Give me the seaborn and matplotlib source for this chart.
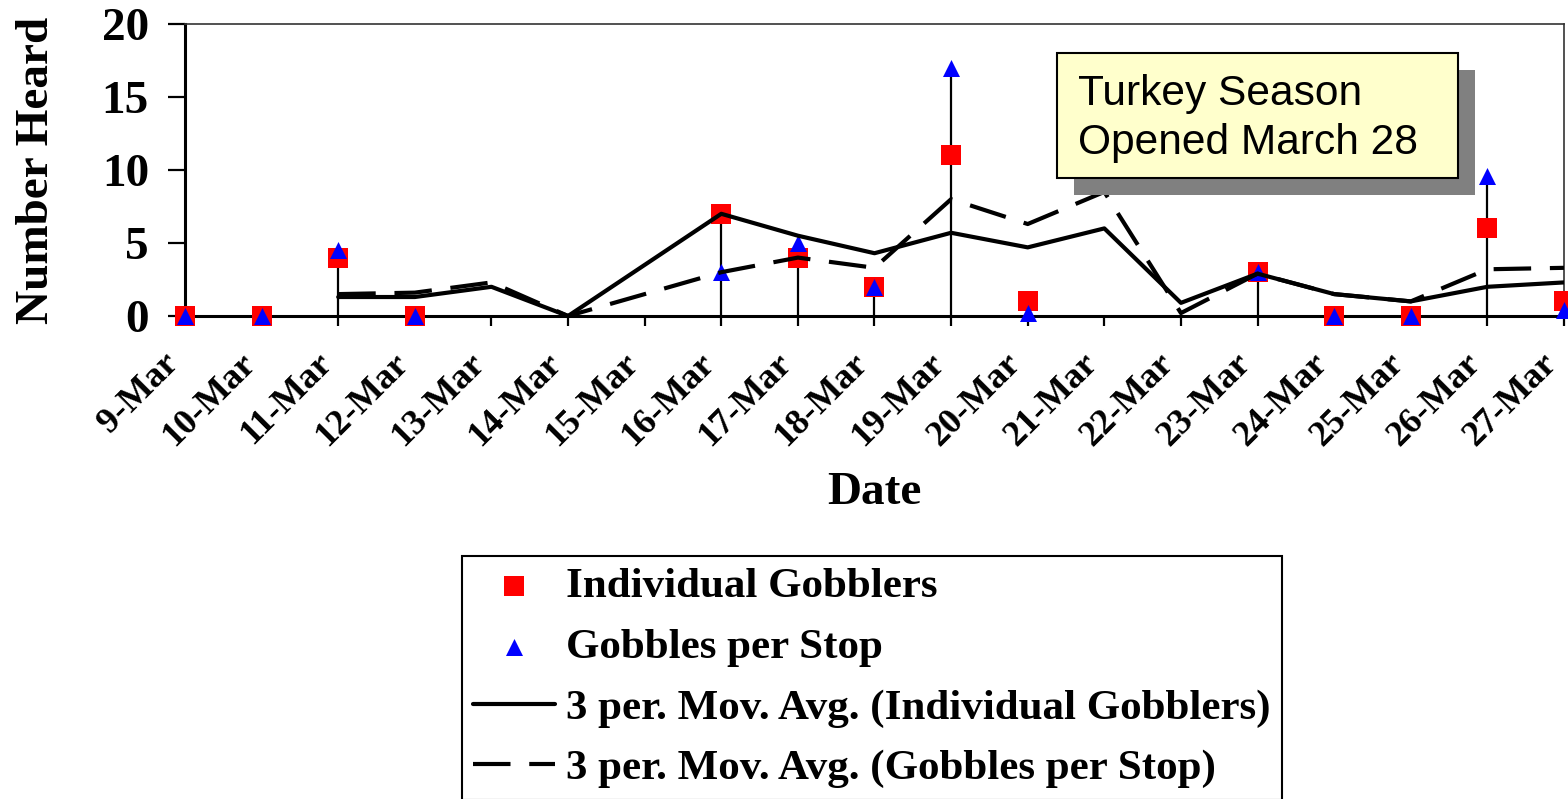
import matplotlib
matplotlib.use("Agg")
import matplotlib.pyplot as plt
import numpy as np
import seaborn as sns
import pandas as pd
from matplotlib.patches import Rectangle

# 数据
dates = ['9-Mar', '10-Mar', '11-Mar', '12-Mar', '13-Mar', '14-Mar', '15-Mar',
         '16-Mar', '17-Mar', '18-Mar', '19-Mar', '20-Mar', '21-Mar', '22-Mar',
         '23-Mar', '24-Mar', '25-Mar', '26-Mar', '27-Mar']
nan = np.nan
individual = [0, 0, 4, 0, nan, nan, nan, 7, 4, 2, 11, 1, nan, nan, 3, 0, 0, 6, 1]
gobbles = [0, 0, 4.5, 0, nan, nan, nan, 3, 5, 2, 17, 0.2, nan, nan, 3, 0, 0, 9.6, 0.4]
mavg_individual = [nan, nan, 1.3, 1.3, 2.0, 0, nan, 7.0, 5.5, 4.3, 5.7, 4.7, 6.0,
                   0.9, 2.9, 1.5, 1.0, 2.0, 2.3]
mavg_gobbles = [nan, nan, 1.5, 1.6, 2.3, 0, nan, 3.0, 4.0, 3.3, 8.0, 6.3, 8.5,
                0.2, 2.9, 1.5, 1.0, 3.2, 3.3]

df = pd.DataFrame({'x': np.arange(len(dates)), 'date': dates,
                   'ind': individual, 'gob': gobbles,
                   'ma_ind': mavg_individual, 'ma_gob': mavg_gobbles})

sns.set_theme(style='white')
plt.rcParams['font.family'] = ['Liberation Serif', 'DejaVu Serif']
plt.rcParams['font.weight'] = 'bold'
for key in ['text.color', 'axes.labelcolor', 'xtick.color', 'ytick.color']:
    plt.rcParams[key] = 'black'

fig = plt.figure(figsize=(15.68, 7.99), dpi=100)
ax = fig.add_axes([185 / 1568, 1 - 316 / 799, 1379 / 1568, 292 / 799])

# drop lines
top = df[['ind', 'gob']].max(axis=1)
ax.vlines(df['x'], 0, top, color='black', lw=1.6, zorder=2)

sns.scatterplot(data=df, x='x', y='ind', ax=ax, marker='s', color='#ff0000',
                s=190, linewidth=0, zorder=3, clip_on=False,
                label='Individual Gobblers')
sns.scatterplot(data=df, x='x', y='gob', ax=ax, marker='^', color='#0000ff',
                s=150, linewidth=0, zorder=4, clip_on=False,
                label='Gobbles per Stop')
sns.lineplot(data=df, x='x', y='ma_ind', ax=ax, color='black', lw=3.0,
             zorder=5, label='3 per. Mov. Avg. (Individual Gobblers)')
sns.lineplot(data=df, x='x', y='ma_gob', ax=ax, color='black', lw=3.0,
             linestyle=(0, (9, 4.5)), zorder=5,
             label='3 per. Mov. Avg. (Gobbles per Stop)')

ax.set_xlim(0, 18)
ax.set_ylim(0, 20)
ax.set_xticks(df['x'])
ax.set_xticklabels(dates)
ax.set_yticks([0, 5, 10, 15, 20])
ax.tick_params(axis='y', direction='out', length=12, width=1.6, pad=14,
               labelsize=34, left=True, color='black')
ax.tick_params(axis='x', direction='out', length=7, width=1.6, pad=15,
               labelsize=26, bottom=True, color='black')
plt.setp(ax.get_xticklabels(), rotation=45, ha='right', va='top')
for lab in ax.get_xticklabels() + ax.get_yticklabels():
    lab.set_fontweight('bold')

for side in ['top', 'right']:
    ax.spines[side].set_color('#333333')
    ax.spines[side].set_linewidth(1.2)
for side in ['left', 'bottom']:
    ax.spines[side].set_color('black')
    ax.spines[side].set_linewidth(2.2)

ax.set_xlabel('Date', fontsize=34, fontweight='bold')
ax.set_ylabel('Number Heard', fontsize=34, fontweight='bold')
ax.xaxis.set_label_coords(0.5, -0.535)
ax.yaxis.set_label_coords(-0.092, 0.5)

# annotation box with shadow
ax.add_patch(Rectangle((0.6447, 0.4144), 0.2908, 0.4281, transform=ax.transAxes,
                       facecolor='#808080', edgecolor='none', zorder=6, clip_on=False))
ax.add_patch(Rectangle((0.6323, 0.4726), 0.2908, 0.4281, transform=ax.transAxes,
                       facecolor='#ffffcc', edgecolor='black', lw=1.5, zorder=7,
                       clip_on=False))
ax.text(0.6476, 0.676, 'Turkey Season\nOpened March 28', transform=ax.transAxes,
        ha='left', va='center', fontsize=30.6, fontweight='normal',
        family=['Liberation Sans', 'DejaVu Sans'], linespacing=1.28, zorder=8)

handles, labels = ax.get_legend_handles_labels()
ax.get_legend().remove()
leg = fig.legend(handles, labels, loc='upper left',
                 bbox_to_anchor=(462 / 1568, 1 - 556 / 799), borderaxespad=0,
                 prop={'family': 'Liberation Serif', 'weight': 'bold', 'size': 31},
                 frameon=True, fancybox=False, framealpha=1, edgecolor='black',
                 borderpad=0.26, handlelength=1.9, handletextpad=0.26,
                 labelspacing=0.5, scatterpoints=1)
leg.get_frame().set_linewidth(1.5)

fig.savefig('out.png', dpi=100)
